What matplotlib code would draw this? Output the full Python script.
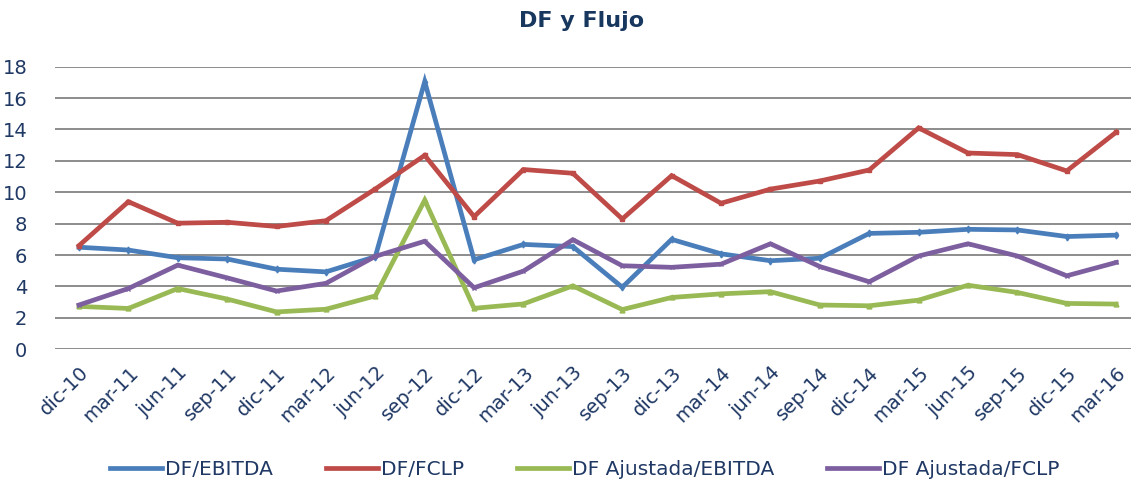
import matplotlib
matplotlib.use("Agg")
import matplotlib.pyplot as plt

categories = ["dic-10", "mar-11", "jun-11", "sep-11", "dic-11", "mar-12", "jun-12",
              "sep-12", "dic-12", "mar-13", "jun-13", "sep-13", "dic-13", "mar-14",
              "jun-14", "sep-14", "dic-14", "mar-15", "jun-15", "sep-15", "dic-15", "mar-16"]
df_ebitda = [6.5, 6.32, 5.83, 5.75, 5.1, 4.93, 5.9, 17.05, 5.7, 6.68, 6.54, 3.95, 7.0,
             6.08, 5.64, 5.8, 7.38, 7.45, 7.64, 7.6, 7.18, 7.27]
df_fclp = [6.6, 9.4, 8.03, 8.09, 7.82, 8.19, 10.21, 12.35, 8.45, 11.45, 11.21, 8.3,
           11.06, 9.3, 10.2, 10.72, 11.42, 14.1, 12.5, 12.4, 11.36, 13.83]
df_aj_ebitda = [2.73, 2.6, 3.87, 3.2, 2.38, 2.55, 3.4, 9.5, 2.61, 2.89, 4.04, 2.53, 3.3,
                3.53, 3.67, 2.82, 2.77, 3.13, 4.08, 3.62, 2.92, 2.88]
df_aj_fclp = [2.82, 3.87, 5.36, 4.55, 3.71, 4.2, 5.92, 6.88, 3.92, 4.98, 6.98, 5.32,
              5.22, 5.42, 6.72, 5.27, 4.3, 5.94, 6.72, 5.94, 4.68, 5.53]
series_names = ["DF/EBITDA", "DF/FCLP", "DF Ajustada/EBITDA", "DF Ajustada/FCLP"]
y_ticks = [0, 2, 4, 6, 8, 10, 12, 14, 16, 18]

colors = ["#4A7EBB", "#BE4B48", "#98B954", "#7D5FA0"]
markers = ["d", "s", "^", "x"]
text_color = "#1F3864"

fig = plt.figure(figsize=(11.31, 4.87), dpi=100)
ax = fig.add_axes([0.0486, 0.2828, 0.9514, 0.5803])

x = list(range(len(categories)))
for vals, name, c, m in zip([df_ebitda, df_fclp, df_aj_ebitda, df_aj_fclp],
                            series_names, colors, markers):
    ax.plot(x, vals, color=c, lw=3.4, marker=m, ms=3.5, mec=c, mfc=c,
            label=name, solid_joinstyle="miter", zorder=3)

ax.set_ylim(0, 18)
ax.set_xlim(-0.486, 21.30)
ax.set_yticks(y_ticks)
ax.set_yticklabels([str(t) for t in y_ticks], fontsize=14, color=text_color)
ax.set_xticks(x)
ax.set_xticklabels(categories, rotation=45, ha="right", va="top",
                   rotation_mode="anchor", fontsize=14, color=text_color)
ax.tick_params(axis="both", length=0)
ax.tick_params(axis="y", pad=20)
ax.tick_params(axis="x", pad=10)
ax.grid(axis="y", color="#8C8C8C", lw=1.4, zorder=0)
for s in ax.spines.values():
    s.set_visible(False)

fig.text(0.514, 0.957, "DF y Flujo", ha="center", va="center", fontsize=16,
         fontweight="bold", color="#17375E")

leg = fig.legend(loc="center", bbox_to_anchor=(0.517, 0.035), ncol=4, frameon=False,
                 fontsize=14.5, handlelength=2.6, handletextpad=0.15,
                 columnspacing=2.6, labelcolor=text_color)
for h in leg.legend_handles:
    h.set_marker("")

fig.savefig("out.png", dpi=100)
